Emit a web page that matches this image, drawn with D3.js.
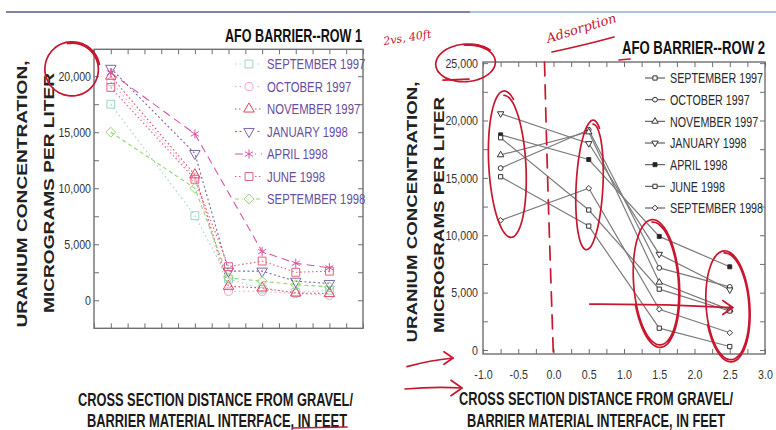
<!DOCTYPE html>
<html lang="en">
<head>
<meta charset="UTF-8">
<title>AFO Barrier - uranium concentration</title>
<script src="https://d3js.org/d3.v7.min.js"></script>
<style>
  body { margin: 0; background: #fff; }
  svg text { font-family: "Liberation Sans Narrow", "Arial Narrow", "Liberation Sans", sans-serif; }
  .frame { fill: none; stroke: #6f6f6f; stroke-width: 1.4px; }
  .ticks .domain { display: none; }
  .ticks line { stroke: #6f6f6f; stroke-width: 1px; }
  .ticks text { font-size: 13px; fill: #333; }
  .ink { fill: none; stroke: #c8172f; stroke-width: 1.7px; stroke-linecap: round; stroke-linejoin: round; }
</style>
</head>
<body>
<svg id="chart" width="776" height="430"></svg>
<script>
// ---- data ----
const seriesNames = ["SEPTEMBER 1997", "OCTOBER 1997", "NOVEMBER 1997", "JANUARY 1998",
                     "APRIL 1998", "JUNE 1998", "SEPTEMBER 1998"];

// row 1: distance (ft) and concentration (ug/L); null = not sampled
const row1Dist  = [-0.75, 0.5, 1.0, 1.5, 2.0, 2.5];
const row1Sep97 = [17500, 7550, 1900, 1000, 700, 900];
const row1Oct97 = [19500, 11000, 800, 800, 600, 450];
const row1Nov97 = [20000, 11200, 1250, 1100, 650, 600];
const row1Jan98 = [20700, 13100, 2600, 2600, 1700, 1500];
const row1Apr98 = [20300, 14850, null, 4350, 3300, 2900];
const row1Jun98 = [19000, 10800, 3000, 3500, 2500, 2600];
const row1Sep98 = [15000, 10000, 2000, 1700, 1400, 1200];

// row 2
const row2Dist  = [-0.75, 0.5, 1.5, 2.5];
const row2Sep97 = [15100, 10800, 1900, 300];
const row2Oct97 = [15850, 19200, 7150, 5500];
const row2Nov97 = [17000, 19000, 5900, 3500];
const row2Jan98 = [20600, 18000, 8350, 5250];
const row2Apr98 = [18750, 16600, 9900, 7250];
const row2Jun98 = [18500, 12200, 5300, 3400];
const row2Sep98 = [11300, 14100, 3550, 1500];

const xTicks = d3.range(-1, 3.001, 0.25);
const xLabels = d3.range(-1, 3.001, 0.5);
const yTicksRow1 = d3.range(0, 20001, 2500);
const yTicksRow2 = d3.range(0, 25001, 2500);

const row1Series = [row1Sep97, row1Oct97, row1Nov97, row1Jan98, row1Apr98, row1Jun98, row1Sep98];
const row2Series = [row2Sep97, row2Oct97, row2Nov97, row2Jan98, row2Apr98, row2Jun98, row2Sep98];

// ---- styles ----
const row1Style = [
  {color: "#98d6c9", dash: "1.5,3",   sym: "square"},
  {color: "#f0a2c6", dash: "1.5,3",   sym: "circle"},
  {color: "#e0485f", dash: "1.5,2.5", sym: "triangle"},
  {color: "#7a68a6", dash: "2,2.5",   sym: "triangleDown"},
  {color: "#d457a8", dash: "8,5",     sym: "asterisk"},
  {color: "#e25f7c", dash: "1.5,2.5", sym: "square"},
  {color: "#94d378", dash: "4,3",     sym: "diamond"}
];
const row2Sym = ["square", "circle", "triangle", "triangleDown", "filled", "square", "diamond"];

const symType = {
  square: d3.symbolSquare,
  circle: d3.symbolCircle,
  triangle: d3.symbolTriangle,
  triangleDown: d3.symbolTriangle,
  asterisk: d3.symbolAsterisk || d3.symbolCross,
  filled: d3.symbolSquare,
  diamond: d3.symbolDiamond2 || d3.symbolDiamond
};
const symSize1 = {square: 62, circle: 52, triangle: 48, triangleDown: 48, asterisk: 60, diamond: 62};
const symSize2 = {square: 18, circle: 18, triangle: 18, triangleDown: 18, filled: 16, diamond: 20};

const svg = d3.select("#chart");
const fmt = d3.format(",");

// squeeze text horizontally (no narrow font installed)
function squeeze(sel, k) {
  sel.each(function() {
    const w = this.getComputedTextLength();
    if (w > 0) d3.select(this).attr("textLength", w * k).attr("lengthAdjust", "spacingAndGlyphs");
  });
}

// thin rule along the top of the slide
svg.append("line").attr("x1", 6).attr("x2", 470).attr("y1", 12).attr("y2", 12)
  .attr("stroke", "#7f83a8").attr("stroke-width", 2);
svg.append("line").attr("x1", 470).attr("x2", 776).attr("y1", 12).attr("y2", 12)
  .attr("stroke", "#a9c4e4").attr("stroke-width", 2);

function marker(g, type, size, x, y, stroke, fill) {
  g.append("path")
    .attr("d", d3.symbol(symType[type], size)())
    .attr("transform", `translate(${x},${y})` + (type === "triangleDown" ? " rotate(180)" : ""))
    .attr("fill", fill)
    .attr("stroke", stroke)
    .attr("stroke-width", 1);
}

function frameAndTicks(x, y, yTicks, showXLabels, labelPad) {
  const [x0, x1] = x.range();
  const [y0, y1] = y.range();
  const g = svg.append("g");
  g.append("rect").attr("class", "frame")
    .attr("x", x0).attr("y", y1).attr("width", x1 - x0).attr("height", y0 - y1);

  g.append("g").attr("class", "ticks").attr("transform", `translate(0,${y0})`)
    .call(d3.axisBottom(x).tickValues(xTicks).tickSize(-5).tickFormat(""));
  g.append("g").attr("class", "ticks").attr("transform", `translate(0,${y1})`)
    .call(d3.axisTop(x).tickValues(xTicks).tickSize(-5).tickFormat(""));
  g.append("g").attr("class", "ticks").attr("transform", `translate(${x0},0)`)
    .call(d3.axisLeft(y).tickValues(yTicks).tickSize(-5).tickPadding(labelPad)
      .tickFormat(d => d % 5000 ? "" : fmt(d)));
  g.append("g").attr("class", "ticks").attr("transform", `translate(${x1},0)`)
    .call(d3.axisRight(y).tickValues(yTicks).tickSize(-5).tickFormat(""));
  if (showXLabels) {
    g.append("g").attr("class", "ticks").attr("transform", `translate(0,${y0})`)
      .call(d3.axisBottom(x).tickValues(xLabels).tickSize(0).tickPadding(16)
        .tickFormat(d => d.toFixed(1)));
  }
  squeeze(g.selectAll(".ticks text"), 0.82);
  return g;
}

function fitted(sel, len) {
  return sel.attr("textLength", len).attr("lengthAdjust", "spacingAndGlyphs");
}

function titles(title, titleRight, titleBase, yt, xt) {
  fitted(svg.append("text").attr("x", titleRight - title.len).attr("y", titleBase)
    .style("font-size", "18px").style("font-weight", "bold").attr("fill", "#111")
    .text(title.text), title.len);
  yt.forEach(t => {
    fitted(svg.append("text")
      .attr("transform", `translate(${t.x},${t.y}) rotate(-90)`)
      .attr("text-anchor", "middle").attr("dy", "0.36em")
      .style("font-family", "'Liberation Sans', Arial, sans-serif")
      .style("font-size", "15px").style("font-weight", "bold").attr("fill", "#222")
      .text(t.text), t.len);
  });
  xt.forEach(t => {
    fitted(svg.append("text").attr("x", t.x).attr("y", t.y).attr("text-anchor", "middle")
      .style("font-size", "18px").style("font-weight", "bold").attr("fill", "#1a1a1a")
      .text(t.text), t.len);
  });
}

// ---------------- ROW 1 ----------------
const xL = d3.scaleLinear([-1, 3], [94, 363]);
const yL = d3.scaleLinear([-2500, 22400], [328.3, 49.3]);
frameAndTicks(xL, yL, yTicksRow1, false, 3);

const plot1 = svg.append("g");
row1Series.forEach((vals, i) => {
  const st = row1Style[i];
  const pts = row1Dist.map((d, j) => [d, vals[j]]).filter(p => p[1] !== null);
  plot1.append("path")
    .attr("d", d3.line().x(p => xL(p[0])).y(p => yL(p[1]))(pts))
    .attr("fill", "none").attr("stroke", st.color).attr("stroke-width", 1.1)
    .attr("stroke-dasharray", st.dash);
});
row1Series.forEach((vals, i) => {
  const st = row1Style[i];
  row1Dist.forEach((d, j) => {
    if (vals[j] === null) return;
    marker(plot1, st.sym, symSize1[st.sym], xL(d), yL(vals[j]), st.color, "none");
  });
});

const leg1 = svg.append("g");
const leg1Y = d3.scaleLinear([0, 6], [64, 199]);
seriesNames.forEach((name, i) => {
  const st = row1Style[i];
  const y = leg1Y(i);
  leg1.append("line").attr("x1", 235).attr("x2", 262).attr("y1", y).attr("y2", y)
    .attr("stroke", st.color).attr("stroke-width", 1.1).attr("stroke-dasharray", st.dash);
  leg1.append("rect").attr("x", 243).attr("y", y - 6).attr("width", 12).attr("height", 12).attr("fill", "#fff");
  marker(leg1, st.sym, symSize1[st.sym], 249, y, st.color, "none");
  leg1.append("text").attr("class", "legtext").attr("x", 267).attr("y", y).attr("dy", "0.36em")
    .style("font-size", "14px").attr("fill", "#6a4d9e").text(name);
});
squeeze(leg1.selectAll(".legtext"), 0.81);

titles({text: "AFO BARRIER--ROW 1", len: 137}, 362, 42,
  [{text: "URANIUM CONCENTRATION,", x: 22, y: 194, len: 267},
   {text: "MICROGRAMS PER LITER", x: 49, y: 193, len: 240}],
  [{text: "CROSS SECTION DISTANCE FROM GRAVEL/", x: 215.5, y: 406, len: 275},
   {text: "BARRIER MATERIAL INTERFACE, IN FEET", x: 217, y: 427, len: 260}]);

// ---------------- ROW 2 ----------------
const xR = d3.scaleLinear([-1, 3], [483, 765]);
const yR = d3.scaleLinear([-350, 25100], [354, 62]);
frameAndTicks(xR, yR, yTicksRow2, true, 5);

const plot2 = svg.append("g");
row2Series.forEach(vals => {
  const pts = row2Dist.map((d, j) => [d, vals[j]]);
  plot2.append("path")
    .attr("d", d3.line().x(p => xR(p[0])).y(p => yR(p[1]))(pts))
    .attr("fill", "none").attr("stroke", "#7c7c7c").attr("stroke-width", 1.2);
});
row2Series.forEach((vals, i) => {
  const s = row2Sym[i];
  row2Dist.forEach((d, j) => {
    marker(plot2, s, symSize2[s], xR(d), yR(vals[j]), "#333", s === "filled" ? "#222" : "#fff");
  });
});

const leg2 = svg.append("g");
const leg2Y = d3.scaleLinear([0, 6], [78, 208]);
seriesNames.forEach((name, i) => {
  const s = row2Sym[i];
  const y = leg2Y(i);
  leg2.append("line").attr("x1", 645).attr("x2", 665).attr("y1", y).attr("y2", y)
    .attr("stroke", "#555").attr("stroke-width", 1.1);
  marker(leg2, s, symSize2[s], 655, y, "#333", s === "filled" ? "#222" : "#fff");
  leg2.append("text").attr("class", "legtext").attr("x", 670).attr("y", y).attr("dy", "0.36em")
    .style("font-size", "14.5px").attr("fill", "#2a2a2a").text(name);
});
squeeze(leg2.selectAll(".legtext"), 0.74);

titles({text: "AFO BARRIER--ROW 2", len: 143}, 765, 54,
  [{text: "URANIUM CONCENTRATION,", x: 412, y: 212, len: 261},
   {text: "MICROGRAMS PER LITER", x: 439, y: 215, len: 236}],
  [{text: "CROSS SECTION DISTANCE FROM GRAVEL/", x: 596, y: 405, len: 274},
   {text: "BARRIER MATERIAL INTERFACE, IN FEET", x: 596, y: 427, len: 258}]);

// ---------------- red hand annotations ----------------
const ink = svg.append("g");

function handEllipse(cx, cy, rx, ry, rot, turns) {
  const n = Math.round(60 * turns);
  const a = rot * Math.PI / 180;
  const pts = d3.range(n + 1).map(k => {
    const t = -Math.PI / 2 + (k / n) * turns * 2 * Math.PI;
    const grow = 1 + 0.07 * k / n;
    const ex = rx * grow * Math.cos(t), ey = ry * grow * Math.sin(t);
    return [cx + ex * Math.cos(a) - ey * Math.sin(a), cy + ex * Math.sin(a) + ey * Math.cos(a)];
  });
  return ink.append("path").attr("class", "ink").attr("d", d3.line().curve(d3.curveBasis)(pts));
}

function arrow(x1, y1, x2, y2, head) {
  ink.append("path").attr("class", "ink")
    .attr("d", `M${x1},${y1} Q${(x1 + x2) / 2},${(y1 + y2) / 2 - 2} ${x2},${y2}`);
  ink.append("path").attr("class", "ink")
    .attr("d", `M${x2 - head},${y2 - head * 0.7} L${x2},${y2} L${x2 - head},${y2 + head * 0.7}`);
}

// circle round the top labels
handEllipse(xL.range()[0] - 22, yL(20000) - 7, 26, 26, -10, 1.25);
handEllipse(xR.range()[0] - 17, yR(25000), 29, 18, -4, 1.15);
ink.append("path").attr("class", "ink").attr("stroke-width", 3)
  .attr("d", `M${xR.range()[0] - 40},${yR(25000) + 17} L${xR.range()[0] - 14},${yR(25000) + 16}`);

// groups of points in row 2
handEllipse(xR(-0.75) + 7, yR(16100), 18, 70, -3, 1.08);
handEllipse(xR(0.5) + 1, yR(14300), 13, 62, 3, 1.08);
handEllipse(xR(1.5) - 3, yR(5850), 22, 61, -4, 1.7);
handEllipse(xR(2.5) - 2, yR(3850), 21, 53, -4, 1.7);

// dashed line at the interface (distance 0)
ink.append("path").attr("class", "ink").attr("stroke-dasharray", "14,9")
  .attr("d", d3.line().curve(d3.curveBasis)([
    [xR(0) - 9, yR.range()[1]], [xR(0) - 6, yR(15000)], [xR(0) - 3, yR(7000)], [xR(0), yR.range()[0] + 4]]));

// arrows
arrow(xR(0.5) + 1, yR(4000), xR(2.5) + 3, yR(3700), 10);
arrow(407, yR(-1450), 453, yR(-700), 9);
arrow(405, 389, 462, 388, 11);

// underlines
ink.append("path").attr("class", "ink").attr("d", "M292,428 L347,427");
ink.append("path").attr("class", "ink").attr("d", "M552,52 Q585,45 614,37");
ink.append("path").attr("class", "ink").attr("stroke-width", 2.5).attr("d", "M619,60 L630,59");

// handwritten notes
ink.append("text").attr("transform", "translate(384,45) rotate(-9)")
  .style("font-family", "'DejaVu Serif', serif").style("font-style", "italic")
  .style("font-size", "11px").attr("fill", "#c8172f").text("2vs, 40ft");
ink.append("text").attr("transform", "translate(548,43) rotate(-17)")
  .style("font-family", "'DejaVu Serif', serif").style("font-style", "italic")
  .style("font-size", "13px").attr("fill", "#c8172f").text("Adsorption");
</script>
</body>
</html>
